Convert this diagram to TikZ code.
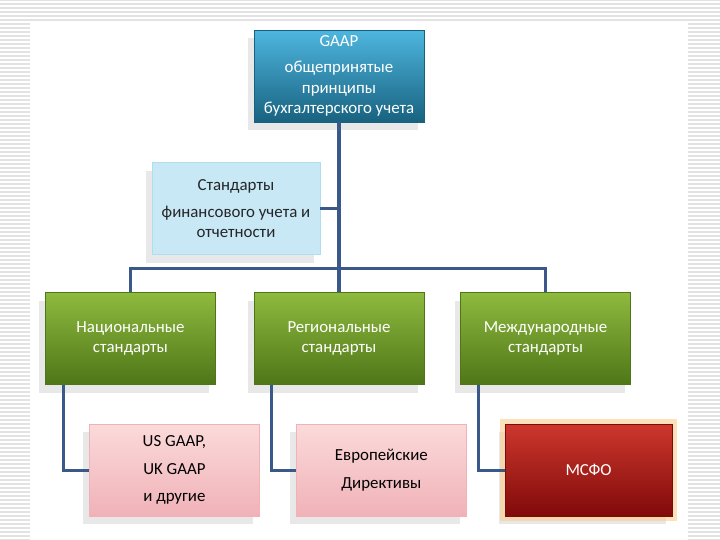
\documentclass[tikz,border=0pt]{standalone}
\usepackage{fontspec}
\setmainfont{Carlito}
\usepackage{xcolor}
\definecolor{sinijVerh}{RGB}{78,182,222}
\definecolor{sinijNiz}{RGB}{24,98,128}
\definecolor{goluboj}{RGB}{200,232,246}
\definecolor{zelVerh}{RGB}{142,186,62}
\definecolor{zelNiz}{RGB}{78,118,24}
\definecolor{rozVerh}{RGB}{251,218,218}
\definecolor{rozNiz}{RGB}{240,178,184}
\definecolor{krasVerh}{RGB}{205,55,45}
\definecolor{krasNiz}{RGB}{128,10,10}
\definecolor{svechenie}{RGB}{250,205,140}
\definecolor{liniyaCvet}{RGB}{58,88,138}
\definecolor{polosa}{RGB}{226,226,226}
\usetikzlibrary{positioning,shadows,calc}
\tikzset{
  korob/.style={rectangle, minimum width=4.25cm, minimum height=2.3cm,
                align=center, font=\fontsize{12}{14.5}\selectfont,
                drop shadow={shadow xshift=-0.15cm, shadow yshift=-0.2cm, opacity=0.18}},
  glavnyj/.style={korob, draw=sinijNiz, top color=sinijVerh, bottom color=sinijNiz, text=white},
  goluboj/.style={korob, draw=goluboj!80!sinijVerh, fill=goluboj, text=black!85},
  zelenyj/.style={korob, draw=zelNiz, top color=zelVerh, bottom color=zelNiz, text=white},
  rozovyj/.style={korob, draw=rozNiz, top color=rozVerh, bottom color=rozNiz, text=black},
  krasnyj/.style={korob, draw=krasNiz, top color=krasVerh, bottom color=krasNiz, text=white,
                  preaction={draw=svechenie, line width=7pt, opacity=0.6}},
  liniya/.style={line width=2.2pt, liniyaCvet},
}
\begin{document}
\begin{tikzpicture}
  \useasboundingbox (0,0) rectangle (18,-13.5);
  \foreach \y in {0,...,135}
    \draw[polosa, line width=0.04cm] (0,-\y*0.1) -- (18,-\y*0.1);
  \fill[white] (0.75,-0.575) rectangle (17.2,-13.5);

  \node[glavnyj] (gaap) at (8.475,-1.9)
       {GAAP\\[4pt]общепринятые\\принципы\\бухгалтерского учета};
  \node[goluboj, minimum width=4.2cm, below=1cm of gaap, xshift=-2.575cm] (standarty)
       {Стандарты\\[5pt]финансового учета и\\отчетности};

  \node[zelenyj, below=4.25cm of gaap] (reg) {Региональные\\стандарты};
  \node[zelenyj, left=0.95cm of reg] (nac) {Национальные\\стандарты};
  \node[zelenyj, right=0.9cm of reg] (mezh) {Международные\\стандарты};

  \node[rozovyj, below=0.975cm of nac, xshift=1.1cm] (usgaap)
       {US GAAP,\\[5pt]UK GAAP\\[5pt]и другие};
  \node[rozovyj, below=0.975cm of reg, xshift=1.06cm] (evro)
       {Европейские\\[5pt]Директивы};
  \node[krasnyj, minimum width=4.175cm, below=0.975cm of mezh, xshift=1.075cm] (msfo)
       {МСФО};

  \coordinate[above=0.6cm of reg] (shina);
  \draw[liniya] (gaap.south) -- (gaap.south |- reg.north);
  \draw[liniya] (standarty.east) -- (standarty.east -| gaap.south);
  \draw[liniya] (nac.north) |- (shina) -| (mezh.north);

  \draw[liniya] ([xshift=0.45cm]nac.south west) |- (usgaap.west);
  \draw[liniya] ([xshift=0.45cm]reg.south west) |- (evro.west);
  \draw[liniya] ([xshift=0.45cm]mezh.south west) |- (msfo.west);
\end{tikzpicture}
\end{document}
